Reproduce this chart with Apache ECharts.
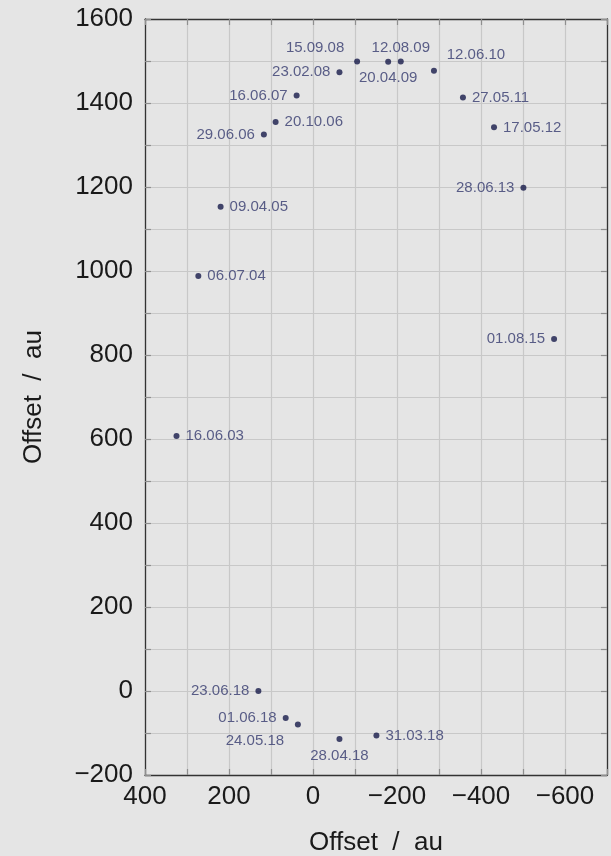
<!DOCTYPE html>
<html>
<head>
<meta charset="utf-8">
<script src="https://cdn.jsdelivr.net/npm/echarts@6/dist/echarts.min.js"></script>
<style>
  html, body { margin: 0; padding: 0; background: #e5e5e5; }
  #chart { width: 611px; height: 856px; }
</style>
</head>
<body>
<div id="chart"></div>
<script>
const dates = [
  '16.06.03', '06.07.04', '09.04.05', '29.06.06', '20.10.06',
  '16.06.07', '23.02.08', '15.09.08', '20.04.09', '12.08.09',
  '12.06.10', '27.05.11', '17.05.12', '28.06.13', '01.08.15',
  '31.03.18', '28.04.18', '24.05.18', '01.06.18', '23.06.18'
]
const offsetX = [
  325, 273, 220, 117, 89,
  39, -63, -105, -179, -209,
  -288, -357, -431, -501, -574,
  -151, -63, 36, 65, 130
]
const offsetY = [
  607, 988, 1153, 1325, 1355,
  1418, 1473, 1499, 1498, 1499,
  1477, 1413, 1342, 1198, 838,
  -106, -114, -80, -64, 0
]
// which side of the dot the date is written on
const labelSide = [
  'right', 'right', 'right', 'left', 'right',
  'left', 'left', 'top-left', 'bottom', 'top',
  'top-right', 'right', 'right', 'left', 'left',
  'right', 'bottom', 'bottom-left', 'left', 'left'
]

const sideLabel = (side) => {
  if (side === 'top') return { position: 'top', offset: [0, 3] }
  if (side === 'top-left') return { position: 'top', offset: [-42, 3] }
  if (side === 'top-right') return { position: 'top', offset: [42, 1] }
  if (side === 'bottom-left') return { position: 'bottom', offset: [-43, 0] }
  return { position: side }
}

const tickFmt = (v) => (v % 200 === 0 ? String(v).replace('-', '\u2212') : '')

const font = '"Liberation Sans", Arial, sans-serif'
const frame = '#333333'
const gridCol = '#c8c8c8'
const tickCol = '#8f8f8f'

const chart = echarts.init(document.getElementById('chart'))

const axisLine = { show: true, onZero: false, lineStyle: { color: frame, width: 1.3 } }
const axisTick = { show: true, inside: true, length: 6, lineStyle: { color: tickCol, width: 1.2 } }

const baseX = {
  type: 'value',
  min: -700,
  max: 400,
  interval: 100,
  inverse: true,
  axisLine,
  axisTick
}
const baseY = {
  type: 'value',
  min: -200,
  max: 1600,
  interval: 100,
  axisLine,
  axisTick
}

chart.setOption({
  backgroundColor: '#e5e5e5',
  animation: false,
  textStyle: { fontFamily: font },
  grid: {
    left: 145,
    right: 4,
    top: 19,
    bottom: 81,
    outerBoundsMode: 'none',
    containLabel: false
  },
  xAxis: [
    {
      ...baseX,
      position: 'bottom',
      name: 'Offset  /  au',
      nameLocation: 'middle',
      nameGap: 55,
      nameTextStyle: { fontSize: 26, color: '#1a1a1a', fontFamily: font },
      axisLabel: { formatter: tickFmt, fontSize: 26, color: '#1a1a1a', margin: 9, fontFamily: font },
      splitLine: { show: true, lineStyle: { color: gridCol, width: 1.2 } }
    },
    {
      ...baseX,
      position: 'top',
      axisLabel: { show: false },
      splitLine: { show: false }
    }
  ],
  yAxis: [
    {
      ...baseY,
      position: 'left',
      name: 'Offset  /  au',
      nameLocation: 'middle',
      nameGap: 98,
      nameTextStyle: { fontSize: 26, color: '#1a1a1a', fontFamily: font },
      axisLabel: { formatter: tickFmt, fontSize: 26, color: '#1a1a1a', margin: 12, fontFamily: font },
      splitLine: { show: true, lineStyle: { color: gridCol, width: 1.2 } }
    },
    {
      ...baseY,
      position: 'right',
      axisLabel: { show: false },
      splitLine: { show: false }
    }
  ],
  series: [
    {
      type: 'scatter',
      xAxisIndex: 0,
      yAxisIndex: 0,
      symbolSize: 6,
      itemStyle: { color: '#161a4a' },
      label: {
        show: true,
        distance: 6,
        fontSize: 15,
        color: '#353a6e',
        fontFamily: font,
        formatter: (p) => p.name
      },
      data: dates.map((d, i) => ({
        name: d,
        value: [offsetX[i], offsetY[i]],
        label: sideLabel(labelSide[i])
      }))
    }
  ]
})
</script>
</body>
</html>
